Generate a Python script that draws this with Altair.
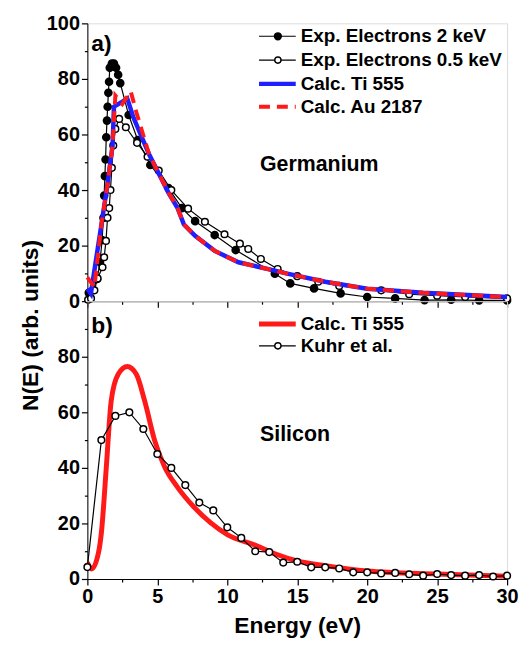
import altair as alt
import pandas as pd

# ---------------- data ----------------
# Germanium (panel a)
exp2_E = [0.1, 0.4, 0.7, 0.9, 1.05, 1.15, 1.2, 1.25, 1.3, 1.35, 1.4, 1.45, 1.5, 1.55, 1.6, 1.75, 1.9,
          2.05, 2.2, 2.35, 2.95, 3.6, 4.5, 5.8, 6.75, 7.7, 9.1, 10.6, 13.4, 14.5, 16.2, 18.1, 20.0,
          22.0, 24.1, 26.0, 28.0, 30.0]
exp2_N = [3, 4, 8, 14, 22, 30, 38, 45, 51, 59, 65, 70, 75, 79, 84, 85.5, 85.5,
          84, 81.5, 78.5, 67, 58, 49, 40.7, 33.5, 28.8, 23.8, 18.4, 9.9, 6.4, 4.6, 2.8, 1.5,
          1.0, 0.4, 0.5, 0.3, 0.3]

exp05_E = [0.05, 0.26, 0.5, 0.73, 1.08, 1.2, 1.33, 1.44, 1.56, 1.65, 1.75, 1.85, 2.0, 2.27, 2.75,
           3.55, 4.3, 5.1, 6.0, 7.2, 8.4, 9.8, 10.9, 11.5, 12.4, 13.6, 15.0, 16.5, 18.0, 21.0,
           23.0, 25.0, 27.0, 30.0]
exp05_N = [0.5, 1.0, 3.9, 8.2, 12.2, 15.8, 21.7, 30, 33.5, 40, 48, 56, 62, 65.6, 62.6,
           57, 52, 47, 40, 33.3, 28.6, 24.1, 20.7, 18.8, 15.2, 11.6, 9.0, 7.0, 5.5, 3.9,
           2.5, 2.0, 1.5, 1.0]

ti_ge_E = [0, 0.25, 0.6, 1.0, 1.4, 1.8, 1.9, 2.4, 2.85, 3.3, 4.4, 5.8, 6.45, 6.9, 7.7, 9.1, 10.8,
           13.4, 14.2, 17, 20, 24, 30]
ti_ge_N = [4.5, 2.7, 14.3, 27.5, 40.7, 56, 70, 71.5, 73, 66, 53, 39, 33.5, 27.6, 23.5, 18.1, 14,
           11, 10, 7, 4.5, 3, 1.5]

au_ge_E = [0, 0.5, 1.0, 1.4, 1.8, 2.0, 2.5, 3.1, 3.5, 4.4, 5.8, 6.45, 6.9, 7.7, 9.1, 10.8, 13.4,
           14.2, 17, 20, 24, 30]
au_ge_N = [8.6, 5, 27.5, 40.7, 56, 74, 71, 75.5, 68, 53, 39, 33.5, 27.6, 23.5, 18.1, 14, 11,
           10, 7, 4.5, 3, 1.5]

# Silicon (panel b)
ti_si_E = [0, 0.3, 0.8, 1.0, 1.35, 1.7, 2.2, 2.85, 3.5, 4.1, 4.8, 5.5, 6.45, 7.6, 8.8, 10.0, 12.1,
           13.5, 15, 17, 20, 25, 30]
ti_si_N = [6, 3.6, 9.6, 16.6, 40, 64, 73.7, 76.5, 73.7, 64, 50, 40.6, 33, 26, 20.3, 16, 12,
           8.9, 6.5, 4.8, 2.9, 1.8, 1]

kuhr_E = list(range(0, 31))
kuhr_N = [4.3, 50, 58.7, 60, 54, 45, 40, 33.8, 27.5, 24.7, 18.6, 14.8, 10, 9.7, 5.9, 6.2, 4.2,
          4.2, 3.8, 2.4, 2.4, 2, 2.2, 1.7, 1.2, 1.8, 1.4, 1.2, 1.4, 0.9, 1.2]

legend_a = ["Exp. Electrons 2 keV", "Exp. Electrons 0.5 keV", "Calc. Ti 555", "Calc. Au 2187"]
legend_b = ["Calc. Ti 555", "Kuhr et al."]
x_ticks = [i * 2.5 for i in range(13)]
y_ticks_a = list(range(0, 101, 10))
y_ticks_b = list(range(0, 91, 10))

# ---------------- style ----------------
FONT = "Liberation Sans"
W, H = 423, 280
BLUE = "#1f1fff"
RED = "#ff1a1a"
LEG_FS = 19

xscale = alt.Scale(domain=[0, 30], nice=False, zero=False)
yscale = alt.Scale(domain=[0, 100], nice=False)


def xaxis(show_labels):
    kw = dict(values=x_ticks, grid=False, domainColor="black", tickColor="black",
              tickSize={"condition": {"test": "datum.value % 5 == 0", "value": 6}, "value": 3},
              tickWidth=1.2, title=None, labelOverlap=False, labelFlush=False)
    if show_labels:
        kw.update(labelExpr="datum.value % 5 == 0 ? datum.label : ''", labelFont=FONT,
                  labelFontSize=20, labelFontWeight="bold", labelColor="black", labelPadding=2,
                  title="Energy (eV)", titleFont=FONT, titleFontSize=23, titleFontWeight="bold",
                  titleColor="black", titlePadding=8)
    else:
        kw.update(labels=False)
    return alt.Axis(**kw)


def yaxis(vals):
    return alt.Axis(values=vals, grid=False, domainColor="black", tickColor="black",
                    tickSize={"condition": {"test": "datum.value % 20 == 0", "value": 6}, "value": 3},
                    tickWidth=1.2, title=None, labelOverlap=False, labelFlush=False,
                    labelExpr="datum.value % 20 == 0 ? datum.label : ''",
                    labelFont=FONT, labelFontSize=20, labelFontWeight="bold", labelColor="black",
                    labelPadding=2)


def df(E, N):
    return pd.DataFrame({"E": E, "N": N})


def enc(chart, xa, ya):
    return chart.encode(x=alt.X("E:Q", scale=xscale, axis=xa),
                        y=alt.Y("N:Q", scale=yscale, axis=ya))


one = pd.DataFrame({"k": [0]})


def leg_line(y, color, width, dash=None):
    kw = dict(color=color, strokeWidth=width)
    if dash:
        kw["strokeDash"] = dash
    return alt.Chart(one).mark_rule(**kw).encode(
        x=alt.value(173), x2=alt.value(210), y=alt.value(y))


def leg_pt(y, filled):
    if filled:
        m = alt.Chart(one).mark_point(filled=True, fill="black", stroke="black", size=40, opacity=1)
    else:
        m = alt.Chart(one).mark_point(filled=True, fill="white", stroke="black", strokeWidth=1.4,
                                      size=40, opacity=1)
    return m.encode(x=alt.value(192), y=alt.value(y))


def label(txt, x, y, size, align="left"):
    return alt.Chart(one).mark_text(align=align, baseline="middle", font=FONT, fontSize=size,
                                    fontWeight="bold", color="black").encode(
        x=alt.value(x), y=alt.value(y), text=alt.value(txt))


# ---------------- panel a ----------------
xa_top = xaxis(False)
ya_top = yaxis(y_ticks_a)

exp2_line = enc(alt.Chart(df(exp2_E, exp2_N)).mark_line(color="black", strokeWidth=1.2), xa_top, ya_top)
exp2_pts = enc(alt.Chart(df(exp2_E, exp2_N)).mark_point(filled=True, fill="black", stroke="black",
                                                        size=45, opacity=1), xa_top, ya_top)
exp05_line = enc(alt.Chart(df(exp05_E, exp05_N)).mark_line(color="black", strokeWidth=1.2), xa_top, ya_top)
exp05_pts = enc(alt.Chart(df(exp05_E, exp05_N)).mark_point(filled=True, fill="white", stroke="black",
                                                           strokeWidth=1.5, size=45, opacity=1),
                xa_top, ya_top)
ti_ge = enc(alt.Chart(df(ti_ge_E, ti_ge_N)).mark_line(color=BLUE, strokeWidth=4.5), xa_top, ya_top)
au_ge = enc(alt.Chart(df(au_ge_E, au_ge_N)).mark_line(color=RED, strokeWidth=4, strokeDash=[11, 7]),
            xa_top, ya_top)

ly = [13, 37, 61, 84]
TX = 215
top = alt.layer(
    exp2_line, exp2_pts, exp05_line, exp05_pts, ti_ge, au_ge,
    leg_line(ly[0], "black", 1.2), leg_pt(ly[0], True),
    leg_line(ly[1], "black", 1.2), leg_pt(ly[1], False),
    leg_line(ly[2], BLUE, 4.5),
    leg_line(ly[3], RED, 4, [11, 7]),
    label(legend_a[0], TX, ly[0], LEG_FS), label(legend_a[1], TX, ly[1], LEG_FS),
    label(legend_a[2], TX, ly[2], LEG_FS), label(legend_a[3], TX, ly[3], LEG_FS),
    label("a)", 4, 21, 23), label("Germanium", 174, 143, 21.5),
).properties(width=W, height=H)

# ---------------- panel b ----------------
xa_bot = xaxis(True)
ya_bot = yaxis(y_ticks_b)

ti_si = enc(alt.Chart(df(ti_si_E, ti_si_N)).mark_line(color=RED, strokeWidth=5, interpolate="monotone"),
            xa_bot, ya_bot)
kuhr_line = enc(alt.Chart(df(kuhr_E, kuhr_N)).mark_line(color="black", strokeWidth=1.2), xa_bot, ya_bot)
kuhr_pts = enc(alt.Chart(df(kuhr_E, kuhr_N)).mark_point(filled=True, fill="white", stroke="black",
                                                        strokeWidth=1.5, size=45, opacity=1),
               xa_bot, ya_bot)

lb = [23, 45]
bottom = alt.layer(
    ti_si, kuhr_line, kuhr_pts,
    leg_line(lb[0], RED, 5),
    leg_line(lb[1], "black", 1.2), leg_pt(lb[1], False),
    label(legend_b[0], TX, lb[0], LEG_FS), label(legend_b[1], TX, lb[1], LEG_FS),
    label("b)", 4, 25, 23), label("Silicon", 174, 135, 21.5),
).properties(width=W, height=H)

chart = alt.vconcat(top, bottom, spacing=0, bounds="flush").properties(
    title=alt.TitleParams(text="N(E) (arb. units)", orient="left", anchor="middle", font=FONT,
                          fontSize=23, fontWeight="bold", color="black", offset=3),
    padding={"left": 12, "top": 2, "right": 0, "bottom": 0},
).configure_view(stroke="black", strokeWidth=1.5).configure(background="white")

chart.save("out.html", embed_options={"renderer": "svg", "actions": False})
